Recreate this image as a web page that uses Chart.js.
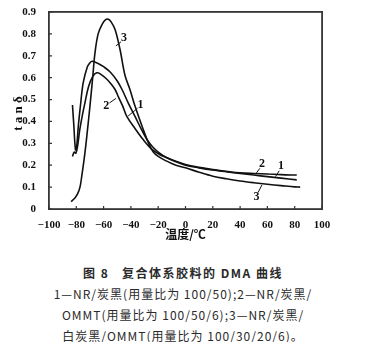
<!DOCTYPE html>
<html>
<head>
<meta charset="utf-8">
<style>
  html, body { margin: 0; padding: 0; background: #fff; }
  .wrap { width: 366px; height: 245px; position: relative; }
  .wrap canvas { display: block; }
  #box { position: absolute; border: 1.5px solid #363636; box-sizing: border-box; pointer-events: none; }
  .caption {
    margin-top: 17px;
    text-align: center;
    font-family: "Noto Sans CJK SC", serif;
    font-size: 12px;
    line-height: 21px;
    color: #2a2a2a;
    letter-spacing: 1px;
  }
  .caption .t { font-weight: bold; letter-spacing: 1.5px; }
</style>
</head>
<body>
<div class="wrap"><canvas id="dma" width="366" height="245"></canvas><div id="box"></div></div>
<div class="caption">
  <div class="t">图 8&nbsp;&nbsp; 复合体系胶料的 DMA 曲线</div>
  <div>1—NR/炭黑(用量比为 100/50);2—NR/炭黑/</div>
  <div>OMMT(用量比为 100/50/6);3—NR/炭黑/</div>
  <div>白炭黑/OMMT(用量比为 100/30/20/6)。</div>
</div>
<script src="https://cdn.jsdelivr.net/npm/chart.js"></script>
<script>
// curve 1: NR / carbon black
const temp1 = [-82.8, -81.8, -80.6, -79.8, -78.5, -77, -75, -72, -70, -68.5, -64, -60, -55, -50, -46.5, -42, -37, -32, -28, -24, -19, -14, -8, 0, 10, 20, 30, 40, 50, 60, 70, 81.5];
const tan1  = [0.475, 0.38, 0.27, 0.28, 0.38, 0.47, 0.575, 0.648, 0.668, 0.675, 0.665, 0.65, 0.625, 0.585, 0.546, 0.485, 0.423, 0.36, 0.315, 0.283, 0.255, 0.235, 0.218, 0.2, 0.188, 0.178, 0.17, 0.162, 0.155, 0.148, 0.141, 0.133];
// curve 2: NR / carbon black / OMMT
const temp2 = [-82.8, -81.5, -80.3, -79, -77.5, -75.5, -73.5, -71, -68, -65, -62, -58, -55, -51.6, -49, -46, -43, -37, -31, -25, -18.7, -14, -8, 0, 10, 20, 30, 40, 50, 60, 70, 81.5];
const tan2  = [0.24, 0.26, 0.255, 0.29, 0.36, 0.43, 0.49, 0.56, 0.605, 0.622, 0.615, 0.595, 0.575, 0.546, 0.51, 0.47, 0.423, 0.368, 0.317, 0.275, 0.248, 0.235, 0.22, 0.203, 0.19, 0.18, 0.172, 0.165, 0.162, 0.16, 0.157, 0.155];
// curve 3: NR / carbon black / silica / OMMT
const temp3 = [-83.8, -81, -79, -77.3, -76, -74, -72, -70, -68, -66.3, -64, -61, -58.5, -56.5, -54.5, -51.6, -48, -44.3, -40.7, -37, -30.9, -27, -23.6, -20, -15, -10, -5, 0, 10, 20, 30, 40, 50, 60, 70, 80, 84];
const tan3  = [0.034, 0.05, 0.07, 0.1, 0.15, 0.24, 0.35, 0.47, 0.6, 0.714, 0.8, 0.845, 0.865, 0.867, 0.855, 0.82, 0.73, 0.61, 0.546, 0.47, 0.362, 0.3, 0.26, 0.24, 0.222, 0.208, 0.196, 0.188, 0.168, 0.15, 0.138, 0.128, 0.12, 0.113, 0.107, 0.101, 0.1];

const xTicks = [-100, -80, -60, -40, -20, 0, 20, 40, 60, 80, 100];
const yTicks = [0, 0.1, 0.2, 0.3, 0.4, 0.5, 0.6, 0.7, 0.8, 0.9];

// curve number labels: [text, label x, label y, leader end x, leader end y] in data units
const curveLabels = [
  ['3', -45, 0.78, -51, 0.745],
  ['2', -58, 0.47, -51, 0.505],
  ['1', -33, 0.475, -42, 0.425],
  ['2', 56, 0.205, 52, 0.165],
  ['1', 70, 0.195, 66, 0.148],
  ['3', 52, 0.055, 56, 0.11]
];

function pts(xs, ys) {
  return xs.map((x, i) => ({ x: x, y: ys[i] }));
}

const tickFont = { family: '"Liberation Serif", serif', size: 11, weight: 'bold' };

const framePlugin = {
  id: 'boxframe',
  afterDraw(chart) {
    const ctx = chart.ctx;
    const sx = chart.scales.x, sy = chart.scales.y;
    const L = sx.getPixelForValue(-100), R = sx.getPixelForValue(100);
    const T = sy.getPixelForValue(0.9), B = sy.getPixelForValue(0);

    // frame overlay placed from the chart's own scales
    const box = document.getElementById('box');
    box.style.left = (L - 1) + 'px';
    box.style.top = (T - 1) + 'px';
    box.style.width = (R - L + 2) + 'px';
    box.style.height = (B - T + 2) + 'px';

    ctx.save();
    ctx.strokeStyle = '#333';
    ctx.lineWidth = 1.6;
    ctx.strokeRect(L, T, R - L, B - T);
    // inward ticks
    ctx.lineWidth = 1.2;
    ctx.beginPath();
    xTicks.forEach(v => {
      const p = sx.getPixelForValue(v);
      ctx.moveTo(p, B); ctx.lineTo(p, B - 3);
    });
    yTicks.forEach(v => {
      const p = sy.getPixelForValue(v);
      ctx.moveTo(L, p); ctx.lineTo(L + 3, p);
    });
    ctx.stroke();

    // curve labels with leaders
    ctx.fillStyle = '#111';
    ctx.strokeStyle = '#111';
    ctx.lineWidth = 1;
    ctx.font = 'bold 12px "Liberation Serif", serif';
    ctx.textAlign = 'center';
    ctx.textBaseline = 'middle';
    curveLabels.forEach(l => {
      const lx = sx.getPixelForValue(l[1]), ly = sy.getPixelForValue(l[2]);
      const ex = sx.getPixelForValue(l[3]), ey = sy.getPixelForValue(l[4]);
      ctx.fillText(l[0], lx, ly);
      const dx = ex - lx, dy = ey - ly, d = Math.hypot(dx, dy);
      ctx.beginPath();
      ctx.moveTo(lx + dx / d * 4, ly + dy / d * 5);
      ctx.lineTo(ex, ey);
      ctx.stroke();
    });

    // axis titles
    ctx.save();
    ctx.font = 'bold 13px "Liberation Serif", serif';
    ctx.translate(19, (T + B) / 2 + 3);
    ctx.rotate(-Math.PI / 2);
    ctx.fillText('t a n δ', 0, 0);
    ctx.restore();
    ctx.font = 'bold 12px "Noto Sans CJK SC", sans-serif';
    ctx.fillText('温度/℃', (L + R) / 2, 234);
    ctx.restore();
  }
};

const lineStyle = { borderColor: '#111', borderWidth: 1.6, pointRadius: 0, fill: false, tension: 0.35 };

new Chart(document.getElementById('dma'), {
  type: 'line',
  data: {
    datasets: [
      Object.assign({ label: '1', data: pts(temp1, tan1) }, lineStyle),
      Object.assign({ label: '2', data: pts(temp2, tan2) }, lineStyle),
      Object.assign({ label: '3', data: pts(temp3, tan3) }, lineStyle)
    ]
  },
  options: {
    responsive: false,
    animation: false,
    layout: { padding: { top: 12, right: 44, bottom: 0, left: 0 } },
    plugins: { legend: { display: false }, tooltip: { enabled: false } },
    scales: {
      x: {
        type: 'linear', min: -100, max: 100,
        afterBuildTicks: s => { s.ticks = xTicks.map(v => ({ value: v })); },
        afterFit: s => { s.height = 36; },
        grid: { display: false },
        border: { display: false },
        ticks: {
          color: '#111', font: tickFont, padding: 2, maxRotation: 0,
          callback: v => String(v).replace('-', '\u2212')
        }
      },
      y: {
        type: 'linear', min: 0, max: 0.9,
        afterBuildTicks: s => { s.ticks = yTicks.map(v => ({ value: v })); },
        afterFit: s => { s.width = 49; },
        grid: { display: false },
        border: { display: false },
        ticks: {
          color: '#111', font: tickFont, padding: 5,
          callback: v => v === 0 ? '0' : v.toFixed(1)
        }
      }
    }
  },
  plugins: [framePlugin]
});
</script>
</body>
</html>
